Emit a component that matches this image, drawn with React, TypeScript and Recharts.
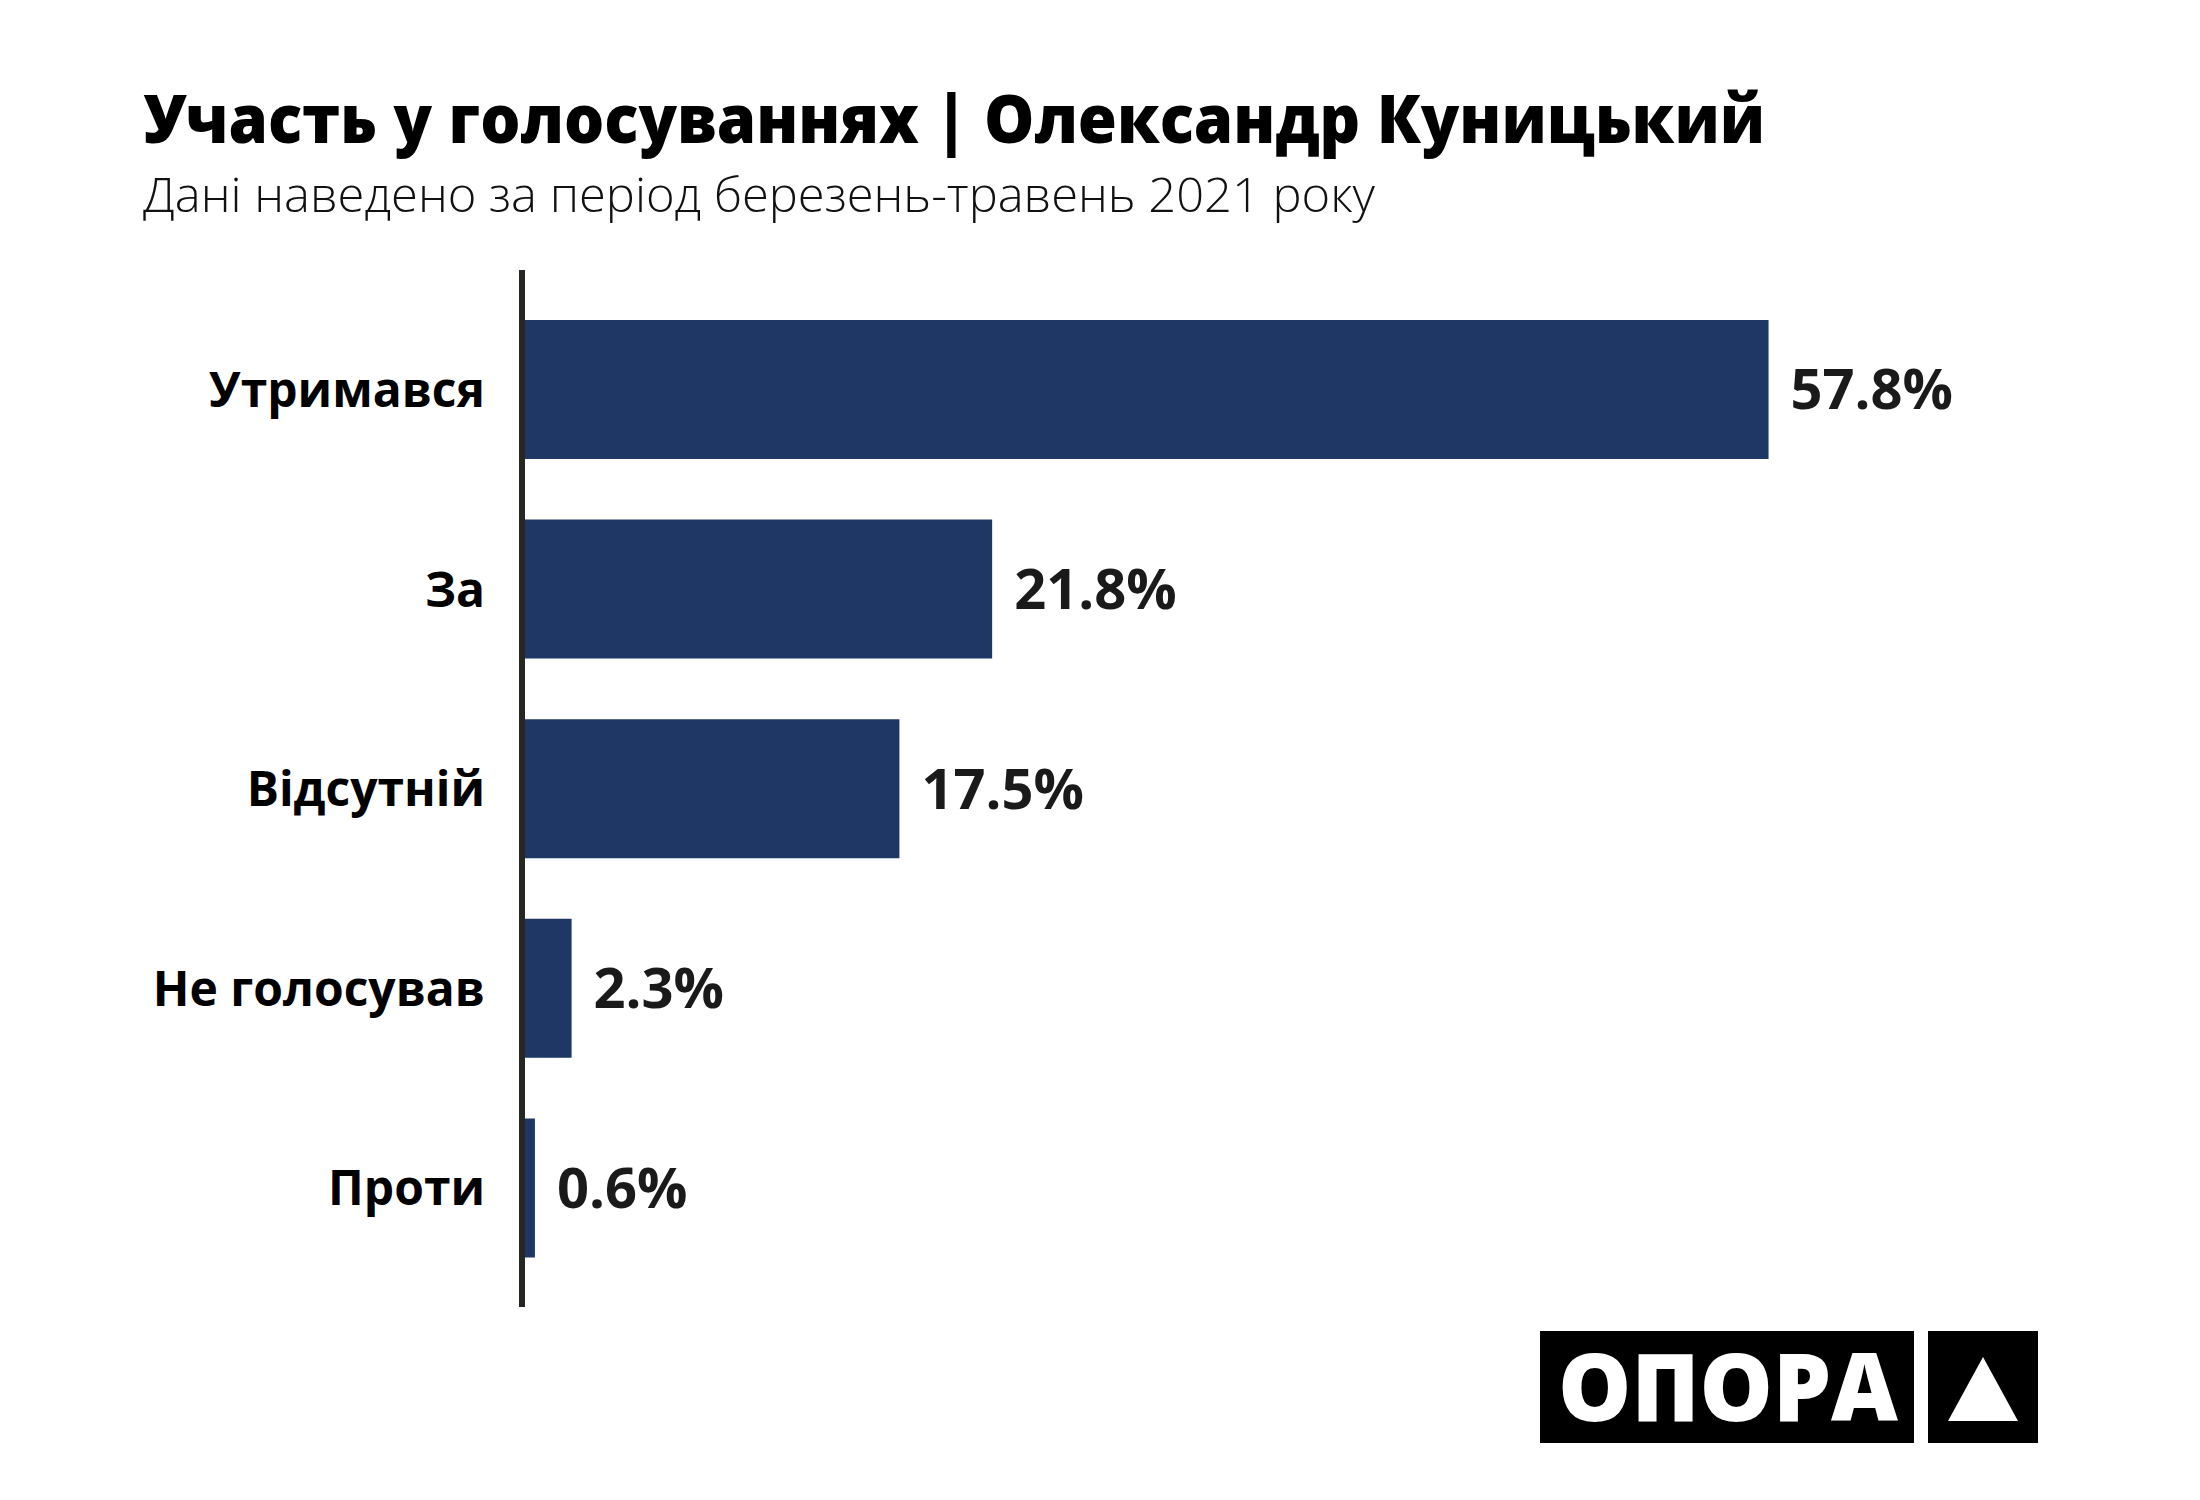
import React from "react";
import { BarChart, Bar, XAxis, YAxis, LabelList } from "recharts";

const categories = ["Утримався", "За", "Відсутній", "Не голосував", "Проти"];
const shares = [57.8, 21.8, 17.5, 2.3, 0.6];
const xDomain = [0, 60];

const title = "Участь у голосуваннях | Олександр Куницький";
const subtitle = "Дані наведено за період березень-травень 2021 року";
const brand = "ОПОРА";

const data = categories.map((category, i) => ({ category, share: shares[i] }));

const BAR_COLOR = "#1E3765";
const AXIS_COLOR = "#262622";
const LABEL_FONT = "'Open Sans', 'Noto Sans', sans-serif";

function CategoryTick({ x, y, payload }: { x?: number; y?: number; payload?: { value: string } }) {
  return (
    <text
      x={x}
      y={y}
      dy="0.36em"
      textAnchor="end"
      fill="#000000"
      fontFamily={LABEL_FONT}
      fontWeight={700}
      fontSize={48}
    >
      {payload?.value}
    </text>
  );
}

function Header() {
  return (
    <svg width={2200} height={260} style={{ position: "absolute", left: 0, top: 0 }}>
      <text
        x={143}
        y={143}
        fontFamily={LABEL_FONT}
        fontWeight={800}
        fontSize={68}
        fill="#000000"
        textLength={1622}
        lengthAdjust="spacingAndGlyphs"
      >
        {title}
      </text>
      <text
        x={143}
        y={212}
        fontFamily={LABEL_FONT}
        fontWeight={300}
        fontSize={48}
        fill="#111111"
        textLength={1232}
        lengthAdjust="spacingAndGlyphs"
      >
        {subtitle}
      </text>
    </svg>
  );
}

function Logo() {
  return (
    <svg width={2200} height={1500} style={{ position: "absolute", left: 0, top: 0, pointerEvents: "none" }}>
      <rect x={1540} y={1331} width={374} height={112} fill="#000000" />
      <rect x={1928} y={1331} width={110} height={112} fill="#000000" />
      <text
        x={1558}
        y={1421}
        fontFamily={LABEL_FONT}
        fontWeight={800}
        fontSize={94}
        fill="#ffffff"
        textLength={340}
        lengthAdjust="spacingAndGlyphs"
      >
        {brand}
      </text>
      <polygon points="1983,1357 2018,1421 1948,1421" fill="#ffffff" />
    </svg>
  );
}

export default function App() {
  return (
    <div style={{ position: "absolute", left: 0, top: 0, width: 2200, height: 1500, background: "#ffffff" }}>
      <Header />
      <div style={{ position: "absolute", left: 0, top: 0 }}>
        <BarChart
          width={2200}
          height={1500}
          data={data}
          layout="vertical"
          margin={{ top: 270, right: 384, bottom: 193, left: 122 }}
        >
          <XAxis type="number" domain={xDomain} hide />
          <YAxis
            type="category"
            dataKey="category"
            width={400}
            padding={{ top: 20, bottom: 19 }}
            axisLine={{ stroke: AXIS_COLOR, strokeWidth: 6 }}
            tickLine={false}
            tickSize={0}
            tickMargin={37}
            tick={<CategoryTick />}
            interval={0}
          />
          <Bar dataKey="share" fill={BAR_COLOR} barSize={139} isAnimationActive={false}>
            <LabelList
              dataKey="share"
              position="right"
              offset={22}
              formatter={(v: number) => `${v}%`}
              fill="#1A1A1A"
              fontFamily={LABEL_FONT}
              fontWeight={700}
              fontSize={56}
            />
          </Bar>
        </BarChart>
      </div>
      <Logo />
    </div>
  );
}
